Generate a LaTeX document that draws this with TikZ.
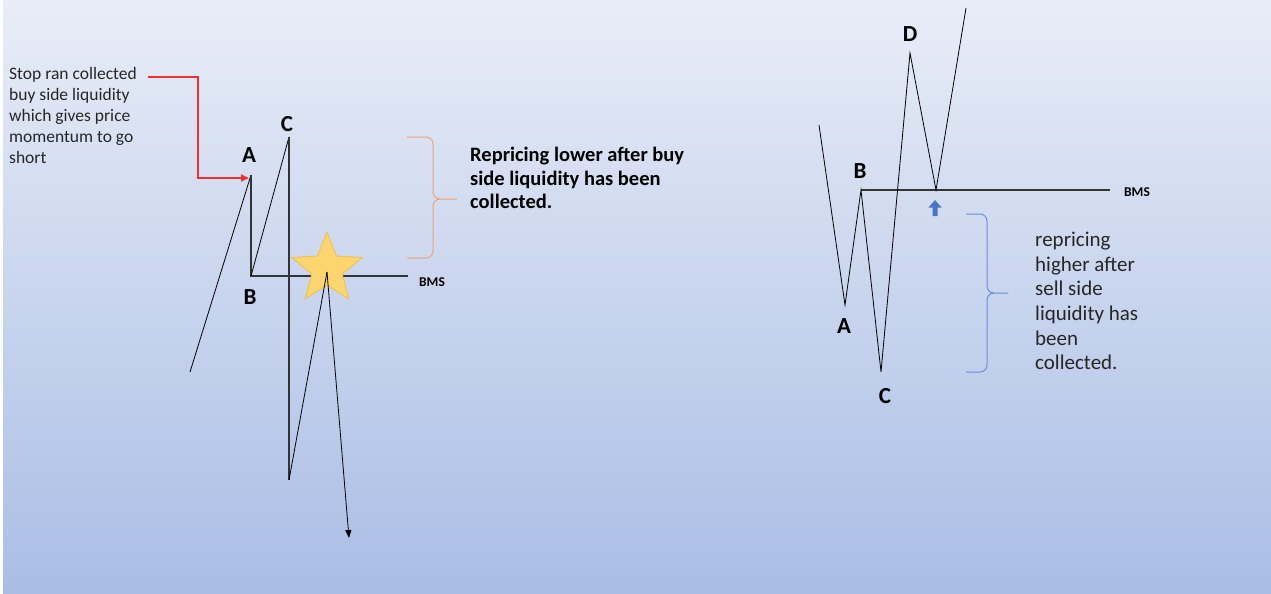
\documentclass[tikz,border=0pt]{standalone}
\usepackage{fontspec}
\setmainfont{Carlito}
\usetikzlibrary{shapes.geometric,arrows.meta}
\definecolor{bgtop}{HTML}{E8EDF7}
\definecolor{bgbot}{HTML}{A9BDE5}
\definecolor{starfill}{HTML}{FDD56E}
\definecolor{stardraw}{HTML}{F2BE4C}
\definecolor{redarrow}{HTML}{F03030}
\definecolor{orangebrace}{HTML}{F2A274}
\definecolor{bluebrace}{HTML}{6A8FD6}
\definecolor{bluearrow}{HTML}{4A74C6}
\definecolor{heavy}{HTML}{333333}
\tikzset{
  thinline/.style={black, line width=0.8pt},
  heavyline/.style={heavy, line width=1.6pt},
  ptlabel/.style={font=\fontsize{23}{23}\selectfont\bfseries, inner sep=0pt},
  bmslabel/.style={font=\fontsize{13.5}{13.5}\selectfont\bfseries, inner sep=0pt},
}
\begin{document}
\begin{tikzpicture}[x=1pt,y=-1pt]
\useasboundingbox (0,0) rectangle (1271,594);
\shade[top color=bgtop, bottom color=bgbot] (0,0) rectangle (1271,594);
\fill[white] (0,0) rectangle (3,594);

% ---------------- left diagram ----------------
\coordinate (L0) at (190,372);
\coordinate (LA) at (251,175);
\coordinate (LB) at (251,276);
\coordinate (LC) at (289,137);
\coordinate (LD) at (289,480);
\coordinate (LS) at (327,272);
\coordinate (LE) at (349,538);
\coordinate (LBMS) at (408,276);

\draw[thinline] (L0) -- (LA);
\draw[heavyline] (LA) -- (LB) -- (LBMS);
\draw[thinline] (LB) -- (LC);
\draw[heavyline, line width=1.3pt] (LC) -- (LD);
\node[star, star points=5, star point ratio=2.3, minimum size=74pt, inner sep=0pt,
      fill=starfill, draw=stardraw, line width=0.8pt] (star) at (327,269) {};
\draw[thinline] (LD) -- (LS);
\draw[thinline, -{Triangle[length=8pt,width=6pt]}] (LS) -- (LE);

\node[ptlabel] (lA) at (249,155) {A};
\node[ptlabel] (lB) at (250,297) {B};
\node[ptlabel] (lC) at (287,124) {C};
\node[bmslabel] (lbms) at (432,282) {BMS};

% note and red arrow
\node[anchor=north west, inner sep=0pt, align=left,
      font=\fontsize{17.5}{21}\selectfont, text=black!85] (note) at (9,67)
  {Stop ran collected\\buy side liquidity\\which gives price\\momentum to go\\short};
\coordinate (R1) at (148,77);
\coordinate (R2) at (198,77);
\coordinate (R3) at (198,178);
\coordinate (R4) at (249,178);
\draw[redarrow, line width=1.6pt, -{Triangle[length=8pt,width=7pt]}] (R1) -- (R2) -- (R3) -- (R4);

% orange brace
\draw[orangebrace, line width=1pt]
  (407,137) -- (426,137) to[out=0,in=90] (433,144) -- (433,192)
  to[out=-90,in=180] (440,199) -- (457,199)
  (440,199) to[out=180,in=90] (433,206) -- (433,251)
  to[out=-90,in=0] (426,258) -- (407,258);

\node[anchor=north west, inner sep=0pt, align=left,
      font=\fontsize{20.5}{23.5}\selectfont\bfseries] (rep1) at (470,147)
  {Repricing lower after buy\\side liquidity has been\\collected.};

% ---------------- right diagram ----------------
\coordinate (P0) at (819,125);
\coordinate (PA) at (845,305);
\coordinate (PB) at (861,190);
\coordinate (PC) at (881,372);
\coordinate (PD) at (910,53);
\coordinate (PE) at (936,190);
\coordinate (PF) at (966,8);
\coordinate (PBMS) at (1110,190);

\draw[heavyline, line width=1.8pt] (PB) -- (PBMS);
\draw[thinline] (P0) -- (PA) -- (PB) -- (PC) -- (PD) -- (PE) -- (PF);

\node[ptlabel] (rB) at (860,171) {B};
\node[ptlabel] (rA) at (844,326) {A};
\node[ptlabel] (rC) at (885,396) {C};
\node[ptlabel] (rD) at (910,34) {D};
\node[bmslabel] (rbms) at (1137,192) {BMS};

% small blue up arrow
\fill[bluearrow] (935,200) -- (941.5,207.5) -- (937.5,207.5) -- (937.5,216)
  -- (932.5,216) -- (932.5,207.5) -- (928.5,207.5) -- cycle;

% blue brace
\draw[bluebrace, line width=1pt]
  (966,214) -- (980,214) to[out=0,in=90] (987,221) -- (987,286)
  to[out=-90,in=180] (994,293) -- (1008,293)
  (994,293) to[out=180,in=90] (987,300) -- (987,365)
  to[out=-90,in=0] (980,372) -- (966,372);

\node[anchor=north west, inner sep=0pt, align=left,
      font=\fontsize{21}{24.6}\selectfont, text=black!85] (rep2) at (1035,232)
  {repricing\\higher after\\sell side\\liquidity has\\been\\collected.};
\end{tikzpicture}
\end{document}
